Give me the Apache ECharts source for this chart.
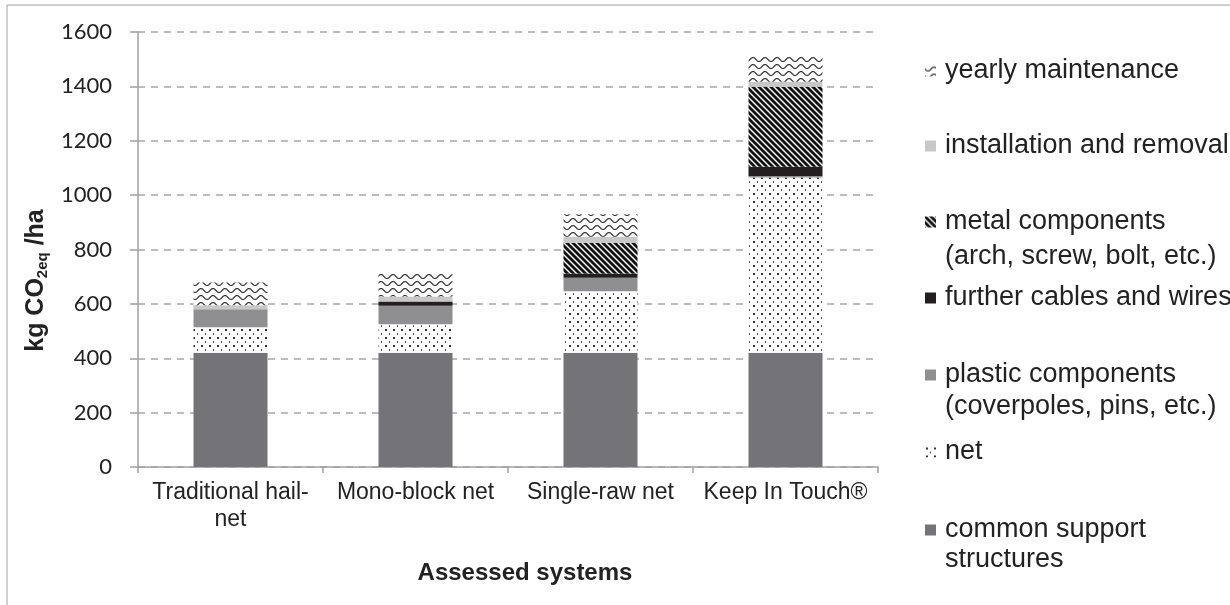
<!DOCTYPE html>
<html>
<head>
<meta charset="utf-8">
<script src="https://cdn.jsdelivr.net/npm/echarts@6/dist/echarts.min.js"></script>
<style>html,body{margin:0;padding:0;background:#fff;}#c{width:1230px;height:605px;}</style>
</head>
<body>
<div id="c"></div>
<script>
// ---- data ----
const categories = ['Traditional hail-\nnet', 'Mono-block net', 'Single-raw net', 'Keep In Touch®'];
const seriesNames = ['common support structures', 'net', 'plastic components', 'further cables and wires', 'metal components', 'installation and removal', 'yearly maintenance'];
const common = [420, 420, 420, 420];
const net = [94, 105, 226, 645];
const plastic = [66, 68, 50, 5];
const cables = [0, 16, 16, 34];
const metal = [0, 0, 113, 295];
const installation = [15, 18, 22, 18];
const yearly = [84, 89, 83, 98];
const yTicks = {min: 0, max: 1600, interval: 200};

// ---- patterns ----
function tile(w, h, draw) {
  const c = document.createElement('canvas');
  c.width = w; c.height = h;
  const ctx = c.getContext('2d');
  ctx.fillStyle = '#ffffff';
  ctx.fillRect(0, 0, w, h);
  draw(ctx);
  return {image: c, repeat: 'repeat'};
}
const netPattern = tile(8, 8, ctx => {
  ctx.fillStyle = '#333';
  ctx.fillRect(1, 1, 2, 2);
  ctx.fillStyle = '#555';
  ctx.fillRect(5, 5, 1, 2);
});
const wavePattern = tile(12, 7, ctx => {
  ctx.strokeStyle = '#333';
  ctx.lineWidth = 1.2;
  ctx.beginPath();
  for (let x = -1; x <= 13; x += 0.5) {
    const y = 3.5 + 2 * Math.sin(2 * Math.PI * x / 12);
    if (x === -1) ctx.moveTo(x, y); else ctx.lineTo(x, y);
  }
  ctx.stroke();
});
const stripePattern = tile(6, 6, ctx => {
  ctx.strokeStyle = '#111';
  ctx.lineWidth = 2.8;
  for (const k of [-6, 0, 6]) {
    ctx.beginPath();
    ctx.moveTo(k - 1, -1);
    ctx.lineTo(k + 7, 7);
    ctx.stroke();
  }
});

const seriesData = [common, net, plastic, cables, metal, installation, yearly];
const seriesColors = ['#747478', netPattern, '#8f8f91', '#231f20', stripePattern, '#c8c8c8', wavePattern];

const chart = echarts.init(document.getElementById('c'), null, {renderer: 'canvas'});
const FONT = 'Liberation Sans, Arial, sans-serif';
const legendCenters = {'yearly maintenance': 71, 'installation and removal': 146, 'metal components': 222, 'further cables and wires': 298, 'plastic components': 375, 'net': 452, 'common support structures': 530};
const legendLabel = {'common support structures': 'common support'};

const legends = seriesNames.map(n => ({
  data: [n],
  left: 925,
  top: legendCenters[n] - 15.5,
  padding: 0,
  icon: 'rect',
  itemWidth: 11,
  itemHeight: 11,
  selectedMode: false,
  formatter: name => legendLabel[name] || name,
  textStyle: {fontFamily: FONT, fontSize: 27, color: '#222', lineHeight: 31, padding: [0, 0, 0, 4]}
}));

const secondLines = [
  {text: '(arch, screw, bolt, etc.)', y: 257},
  {text: '(coverpoles, pins, etc.)', y: 407},
  {text: 'structures', y: 560}
];

const option = {
  backgroundColor: '#ffffff',
  animation: false,
  grid: {left: 138, right: 352, top: 32, bottom: 138},
  legend: legends,
  graphic: [
    {type: 'rect', shape: {x: 7, y: 5, width: 1240, height: 640}, style: {fill: 'none', stroke: '#a0a0a0', lineWidth: 1}, silent: true}
  ].concat(secondLines.map(s => ({
    type: 'text', left: 945, top: s.y - 15.5,
    style: {text: s.text, fontFamily: FONT, fontSize: 27, fill: '#222', lineHeight: 31}
  }))),
  xAxis: {
    type: 'category',
    data: categories,
    axisLine: {lineStyle: {color: '#a0a0a0', width: 1.5}},
    axisTick: {show: true, length: 6, lineStyle: {color: '#a0a0a0', width: 1.5}},
    axisLabel: {fontFamily: FONT, fontSize: 23, color: '#222', lineHeight: 27, margin: 12, interval: 0},
    name: 'Assessed systems',
    nameLocation: 'middle',
    nameGap: 94,
    nameTextStyle: {fontFamily: FONT, fontSize: 24, fontWeight: 'bold', color: '#222', padding: [0, 0, 0, 34]}
  },
  yAxis: {
    type: 'value',
    min: yTicks.min, max: yTicks.max, interval: yTicks.interval,
    axisLine: {show: true, lineStyle: {color: '#a0a0a0', width: 1.5}},
    axisTick: {show: true, length: 8, lineStyle: {color: '#a0a0a0', width: 1.5}},
    axisLabel: {fontFamily: 'Lato, sans-serif', fontSize: 22, color: '#222', margin: 26, formatter: v => String(v)},
    splitLine: {show: true, lineStyle: {color: '#a6a6a6', width: 1.5, type: [7, 6]}},
    name: '{a|kg CO}{s|2eq}{a| /ha}',
    nameLocation: 'middle',
    nameGap: 88,
    nameTextStyle: {
      padding: [0, 62, 0, 0],
      rich: {
        a: {fontFamily: FONT, fontSize: 25, fontWeight: 'bold', color: '#222', lineHeight: 28},
        s: {fontFamily: FONT, fontSize: 15, fontWeight: 'bold', color: '#222', lineHeight: 15, verticalAlign: 'bottom'}
      }
    }
  },
  series: seriesNames.map((n, i) => ({
    name: n,
    type: 'bar',
    stack: 'total',
    barWidth: '40%',
    data: seriesData[i],
    itemStyle: {color: seriesColors[i]},
    emphasis: {disabled: true}
  }))
};
chart.setOption(option);
</script>
</body>
</html>
